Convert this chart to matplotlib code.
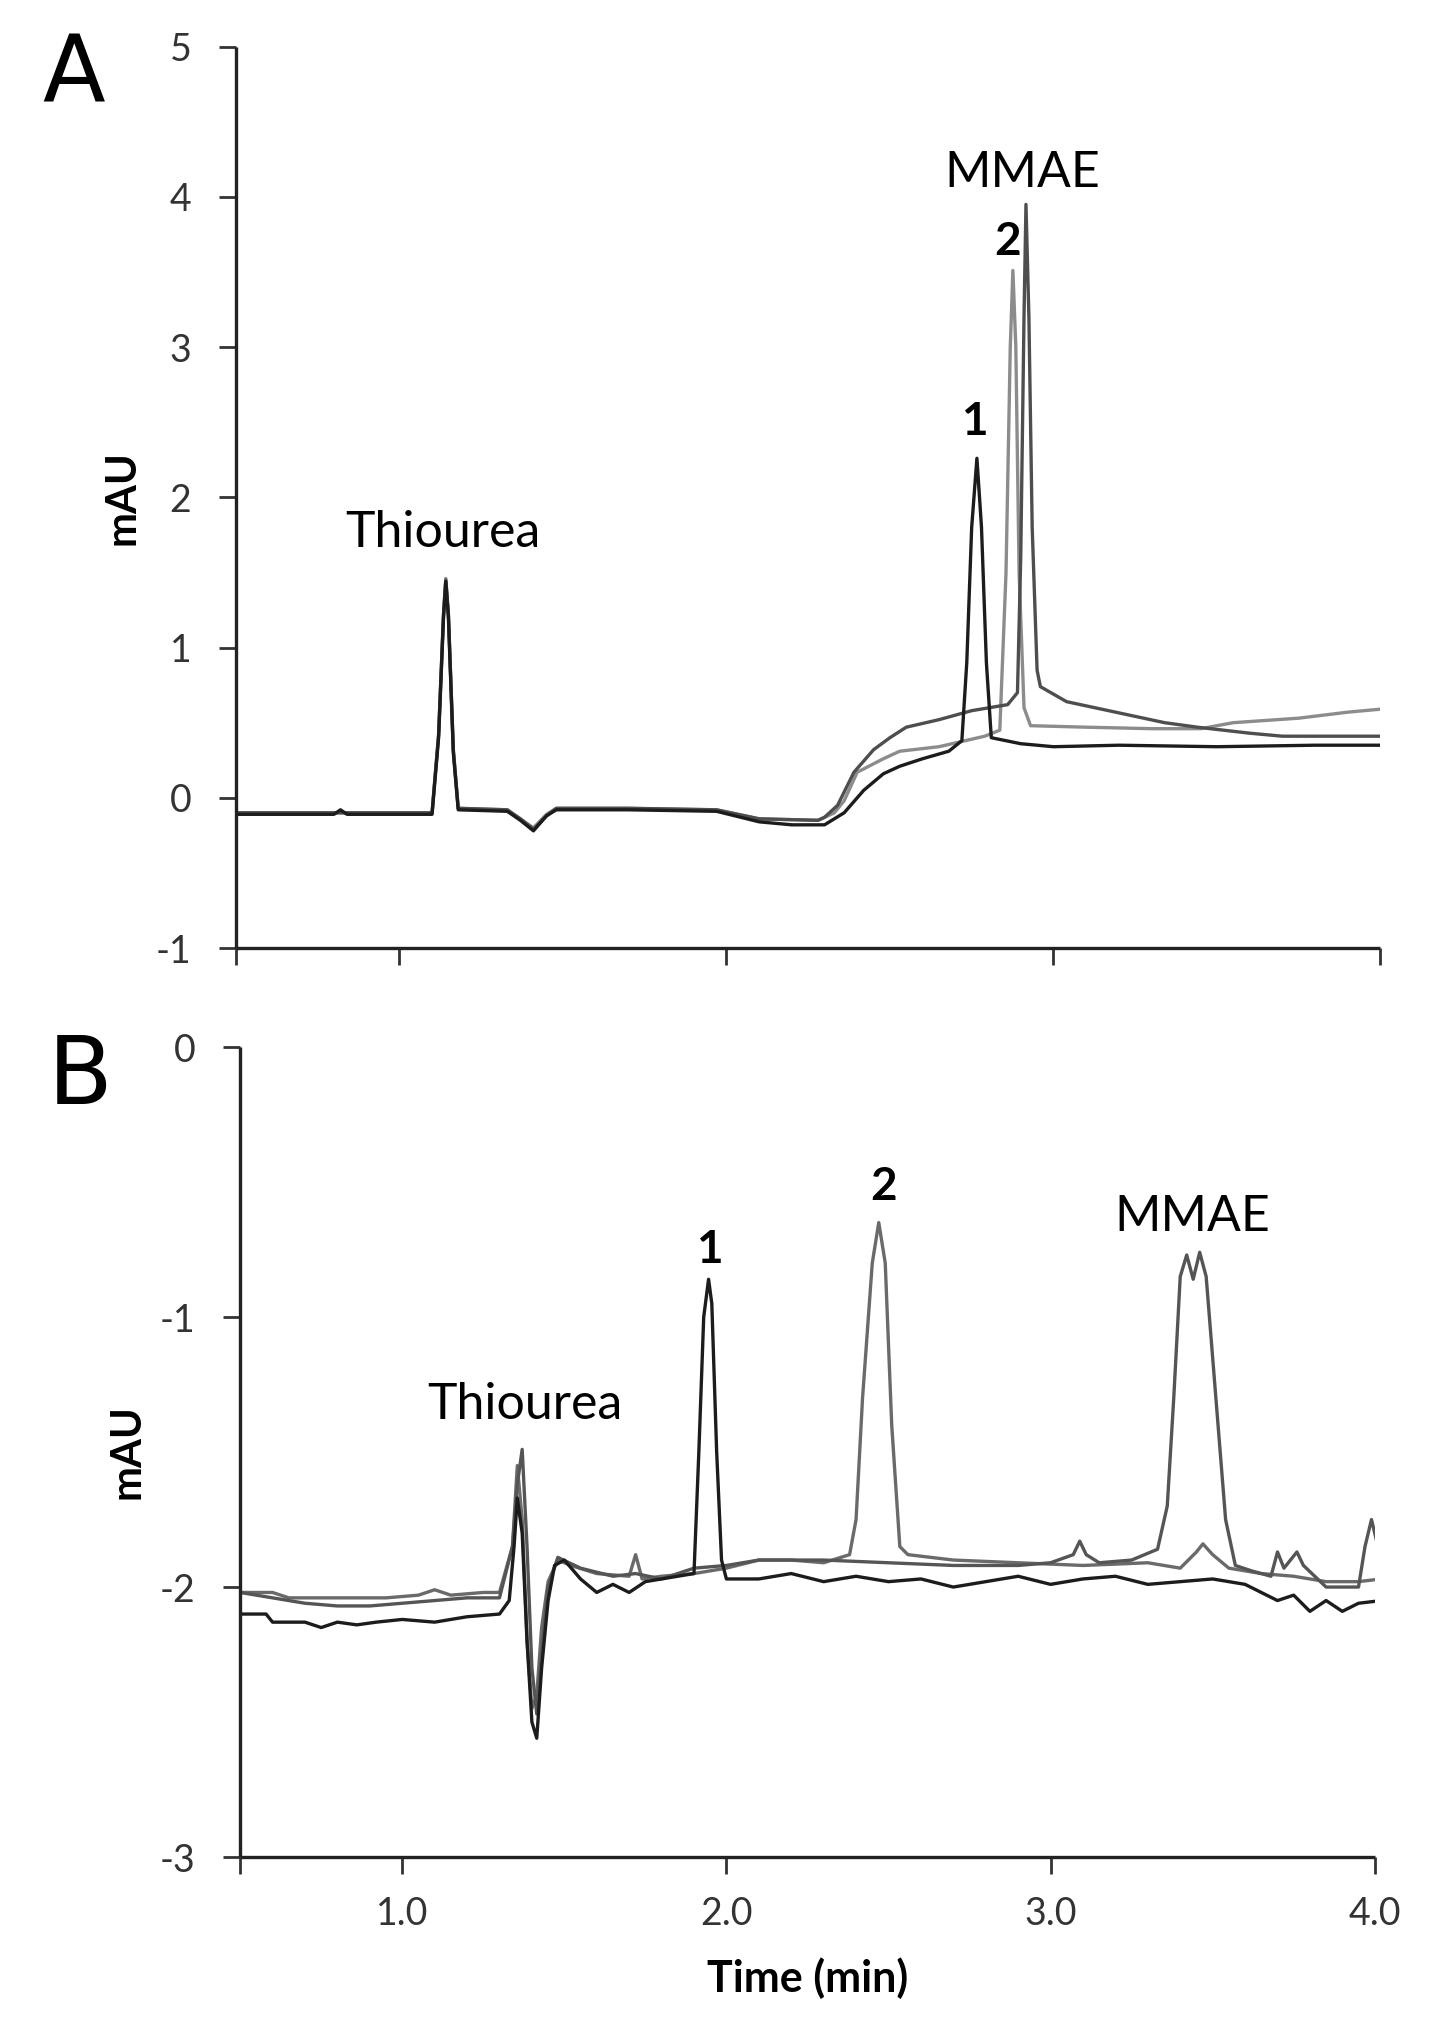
import numpy as np
import matplotlib.pyplot as plt

plt.rcParams['font.family'] = ['Lato', 'DejaVu Sans']

# ---- Panel A traces (time in min, signal in mAU) ----
a_pk1_t = [0.50, 0.80, 0.82, 0.84, 1.10, 1.12, 1.135, 1.142, 1.15, 1.165, 1.18, 1.33, 1.37, 1.41, 1.45,
           1.48, 1.70, 1.97, 2.10, 2.20, 2.30, 2.36, 2.42, 2.48, 2.53, 2.60, 2.68, 2.72, 2.735, 2.75,
           2.766, 2.78, 2.795, 2.81, 2.90, 3.00, 3.20, 3.50, 3.80, 4.00]
a_pk1_v = [-0.11, -0.11, -0.08, -0.11, -0.11, 0.40, 1.20, 1.44, 1.20, 0.30, -0.08, -0.09, -0.15, -0.22, -0.12,
           -0.08, -0.08, -0.09, -0.16, -0.18, -0.18, -0.10, 0.05, 0.16, 0.21, 0.26, 0.31, 0.38, 0.90, 1.80,
           2.26, 1.80, 0.90, 0.40, 0.36, 0.34, 0.35, 0.34, 0.35, 0.35]

a_pk2_t = [0.50, 0.80, 1.10, 1.12, 1.135, 1.142, 1.15, 1.165, 1.18, 1.33, 1.37, 1.41, 1.45, 1.48, 1.70,
           1.97, 2.10, 2.28, 2.33, 2.36, 2.40, 2.48, 2.53, 2.65, 2.79, 2.836, 2.855, 2.868, 2.876, 2.885,
           2.895, 2.91, 2.93, 3.10, 3.30, 3.45, 3.55, 3.75, 3.90, 4.00]
a_pk2_v = [-0.10, -0.10, -0.10, 0.42, 1.22, 1.46, 1.22, 0.32, -0.07, -0.08, -0.14, -0.20, -0.11, -0.07, -0.07,
           -0.08, -0.14, -0.15, -0.10, -0.02, 0.17, 0.26, 0.31, 0.34, 0.41, 0.45, 1.50, 3.00, 3.51, 3.00,
           1.50, 0.60, 0.48, 0.47, 0.46, 0.46, 0.50, 0.53, 0.57, 0.59]

a_mmae_t = [0.50, 0.80, 1.10, 1.12, 1.135, 1.142, 1.15, 1.165, 1.18, 1.33, 1.37, 1.41, 1.45, 1.48, 1.70,
            1.97, 2.10, 2.28, 2.30, 2.34, 2.39, 2.45, 2.50, 2.55, 2.65, 2.75, 2.86, 2.89, 2.90, 2.91,
            2.916, 2.925, 2.935, 2.95, 2.96, 3.04, 3.19, 3.34, 3.44, 3.60, 3.70, 4.00]
a_mmae_v = [-0.10, -0.10, -0.10, 0.42, 1.22, 1.45, 1.22, 0.32, -0.07, -0.08, -0.14, -0.21, -0.12, -0.07, -0.07,
            -0.08, -0.14, -0.15, -0.13, -0.05, 0.17, 0.32, 0.40, 0.47, 0.52, 0.58, 0.62, 0.70, 1.60, 3.20,
            3.95, 3.20, 1.80, 0.85, 0.74, 0.64, 0.57, 0.50, 0.47, 0.43, 0.41, 0.41]

# ---- Panel B traces ----
b_pk1_t = [0.50, 0.58, 0.60, 0.70, 0.75, 0.80, 0.86, 0.92, 1.00, 1.10, 1.20, 1.30, 1.33, 1.345, 1.355,
           1.37, 1.385, 1.40, 1.415, 1.43, 1.45, 1.47, 1.50, 1.55, 1.60, 1.65, 1.70, 1.75, 1.80, 1.90,
           1.915, 1.93, 1.945, 1.955, 1.97, 1.985, 2.00, 2.10, 2.20, 2.30, 2.40, 2.50, 2.60, 2.70, 2.80,
           2.90, 3.00, 3.10, 3.20, 3.30, 3.40, 3.50, 3.60, 3.70, 3.75, 3.80, 3.85, 3.90, 3.95, 4.02]
b_pk1_v = [-2.10, -2.10, -2.13, -2.13, -2.15, -2.13, -2.14, -2.13, -2.12, -2.13, -2.11, -2.10, -2.05, -1.85, -1.67,
           -1.80, -2.20, -2.50, -2.56, -2.30, -2.05, -1.92, -1.90, -1.97, -2.02, -1.99, -2.02, -1.98, -1.97, -1.95,
           -1.50, -1.00, -0.86, -0.95, -1.50, -1.90, -1.97, -1.97, -1.95, -1.98, -1.96, -1.98, -1.97, -2.00, -1.98,
           -1.96, -1.99, -1.97, -1.96, -1.99, -1.98, -1.97, -1.99, -2.05, -2.03, -2.09, -2.05, -2.09, -2.06, -2.05]

b_pk2_t = [0.50, 0.60, 0.65, 0.75, 0.85, 0.95, 1.05, 1.10, 1.15, 1.25, 1.30, 1.34, 1.355, 1.37, 1.385,
           1.40, 1.415, 1.43, 1.45, 1.48, 1.52, 1.60, 1.70, 1.72, 1.74, 1.80, 1.90, 2.00, 2.10, 2.20,
           2.30, 2.38, 2.40, 2.42, 2.45, 2.47, 2.49, 2.51, 2.535, 2.56, 2.70, 2.90, 3.10, 3.30, 3.40,
           3.45, 3.47, 3.50, 3.55, 3.65, 3.75, 3.85, 3.95, 4.02]
b_pk2_v = [-2.02, -2.02, -2.04, -2.04, -2.04, -2.04, -2.03, -2.01, -2.03, -2.02, -2.02, -1.85, -1.55, -1.75, -2.20,
           -2.45, -2.40, -2.15, -1.98, -1.90, -1.92, -1.95, -1.96, -1.88, -1.97, -1.96, -1.95, -1.93, -1.90, -1.90,
           -1.91, -1.88, -1.75, -1.30, -0.80, -0.65, -0.80, -1.40, -1.85, -1.88, -1.90, -1.91, -1.92, -1.91, -1.93,
           -1.87, -1.84, -1.88, -1.93, -1.95, -1.96, -1.98, -1.98, -1.97]

b_mmae_t = [0.50, 0.60, 0.70, 0.80, 0.90, 1.00, 1.10, 1.20, 1.30, 1.34, 1.355, 1.37, 1.385, 1.40, 1.415,
            1.43, 1.45, 1.48, 1.55, 1.65, 1.72, 1.80, 1.90, 2.00, 2.10, 2.30, 2.50, 2.70, 2.90, 3.00,
            3.07, 3.09, 3.11, 3.15, 3.25, 3.33, 3.36, 3.38, 3.40, 3.42, 3.44, 3.46, 3.48, 3.51, 3.54,
            3.57, 3.62, 3.68, 3.70, 3.72, 3.76, 3.78, 3.85, 3.95, 3.97, 3.99, 4.01, 4.02]
b_mmae_v = [-2.02, -2.04, -2.06, -2.07, -2.07, -2.06, -2.05, -2.04, -2.04, -1.85, -1.62, -1.49, -1.85, -2.30, -2.47,
            -2.25, -2.00, -1.89, -1.93, -1.96, -1.95, -1.97, -1.93, -1.92, -1.90, -1.90, -1.91, -1.92, -1.92, -1.91,
            -1.88, -1.83, -1.88, -1.91, -1.90, -1.86, -1.70, -1.30, -0.85, -0.77, -0.86, -0.76, -0.85, -1.30, -1.75,
            -1.92, -1.94, -1.96, -1.87, -1.93, -1.87, -1.92, -2.00, -2.00, -1.85, -1.75, -1.85, -1.98]

x_ticks = [0.5, 1.0, 2.0, 3.0, 4.0]
x_tick_labels = ['', '1.0', '2.0', '3.0', '4.0']
a_y_ticks = [-1, 0, 1, 2, 3, 4, 5]
b_y_ticks = [-3, -2, -1, 0]

fig = plt.figure(figsize=(14.38, 20.30), dpi=100)
axA = fig.add_axes([0.164, 0.533, 0.796, 0.444])
axB = fig.add_axes([0.167, 0.0852, 0.789, 0.399])

c_black, c_dark, c_light = '#1c1c1c', '#4e4e4e', '#8c8c8c'

axA.plot(a_pk2_t, a_pk2_v, color=c_light, lw=2.4)
axA.plot(a_mmae_t, a_mmae_v, color=c_dark, lw=2.4)
axA.plot(a_pk1_t, a_pk1_v, color=c_black, lw=2.4)

axB.plot(b_pk2_t, b_pk2_v, color='#6a6a6a', lw=2.4)
axB.plot(b_mmae_t, b_mmae_v, color='#555555', lw=2.4)
axB.plot(b_pk1_t, b_pk1_v, color=c_black, lw=2.4)

for ax, yt in ((axA, a_y_ticks), (axB, b_y_ticks)):
    ax.set_xlim(0.5, 4.0)
    ax.set_ylim(yt[0], yt[-1])
    ax.set_xticks(x_ticks)
    ax.set_yticks(yt)
    ax.set_yticklabels([str(v) for v in yt])
    for s in ('top', 'right'):
        ax.spines[s].set_visible(False)
    for s in ('left', 'bottom'):
        ax.spines[s].set_linewidth(2.4)
        ax.spines[s].set_color('#222222')
        ax.spines[s].set_capstyle('butt')
    ax.tick_params(direction='out', length=12, width=2.0, color='#333333',
                   labelsize=27, labelcolor='#333333')
    ax.tick_params(axis='y', pad=20)
    ax.tick_params(axis='x', pad=16)
    ax.set_ylabel('mAU', fontsize=30, fontweight='bold', labelpad=10)

axA.set_xticklabels([''] * len(x_ticks))
axB.set_xticklabels(x_tick_labels)
axB.set_xlabel('Time (min)', fontsize=31, fontweight='bold', labelpad=18)

# peak labels
axA.text(1.133, 1.76, 'Thiourea', fontsize=36, ha='center', va='center')
axA.text(2.904, 4.16, 'MMAE', fontsize=36, ha='center', va='center')
axA.text(2.757, 2.50, '1', fontsize=33, fontweight='bold', ha='center', va='center')
axA.text(2.861, 3.70, '2', fontsize=33, fontweight='bold', ha='center', va='center')

axB.text(1.379, -1.326, 'Thiourea', fontsize=36, ha='center', va='center')
axB.text(3.436, -0.63, 'MMAE', fontsize=36, ha='center', va='center')
axB.text(1.946, -0.75, '1', fontsize=33, fontweight='bold', ha='center', va='center')
axB.text(2.486, -0.52, '2', fontsize=33, fontweight='bold', ha='center', va='center')

fig.text(0.051, 0.963, 'A', fontsize=66, family='DejaVu Sans', ha='center', va='center')
fig.text(0.056, 0.469, 'B', fontsize=68, family='DejaVu Sans', ha='center', va='center')

fig.savefig('out.png', dpi=100, facecolor='white')
